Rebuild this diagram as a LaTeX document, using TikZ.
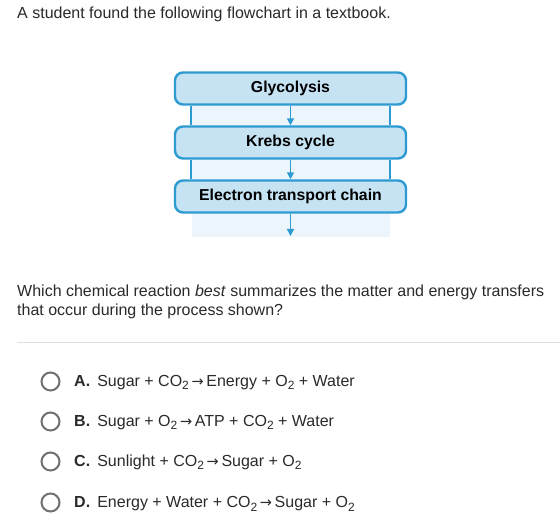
\documentclass[tikz,border=0pt]{standalone}
\usepackage{fontspec}
\setmainfont{Liberation Sans}
\newfontfamily\symfont{DejaVu Sans}
\usetikzlibrary{arrows.meta}
\definecolor{boxfill}{HTML}{C6E3F4}
\definecolor{boxline}{HTML}{2D9BD2}
\definecolor{panel}{HTML}{EBF5FB}
\definecolor{txt}{HTML}{2A2A2A}
\definecolor{radio}{HTML}{707070}
\definecolor{sep}{HTML}{E0E0E0}
\newcommand{\arr}{\,{\symfont\fontsize{14.5}{14}\selectfont →}\,}
\newcommand{\sub}[1]{\raisebox{-3pt}{\fontsize{12}{12}\selectfont #1}}
\begin{document}
\begin{tikzpicture}[x=1pt,y=-1pt,
  txtnode/.style={anchor=base west,inner sep=0pt,text=txt,font=\fontsize{16}{19}\selectfont},
  stagebox/.style={draw=boxline,fill=boxfill,line width=2.4pt,rounded corners=8pt,minimum width=231pt,minimum height=32pt,inner sep=0pt,text=black,font=\bfseries\fontsize{15.8}{18}\selectfont},
  flowarrow/.style={draw=boxline,line width=1.5pt,-{Triangle[length=7pt,width=7pt]}},
  sideline/.style={draw=boxline,line width=1.5pt},
  radiobtn/.style={circle,draw=radio,line width=2pt,minimum size=18pt,inner sep=0pt}]
\useasboundingbox (0,0) rectangle (560,518);
\fill[white] (0,0) rectangle (560,518);
\node[txtnode] (t1) at (17,19) {A student found the following flowchart in a textbook.};
% panel
\fill[panel] (192,95) rectangle (390,237);
\node[stagebox] (g) at (290.5,88.5) {\raisebox{-1pt}{Glycolysis}};
\node[stagebox] (k) at (290.5,142.5) {\raisebox{-1pt}{Krebs cycle}};
\node[stagebox] (e) at (290.5,196.5) {\raisebox{-1pt}{Electron transport chain}};
\coordinate (end) at (290.5,236);
\draw[sideline] ([xshift=17pt]g.south west) -- ([xshift=17pt]k.north west);
\draw[sideline] ([xshift=-17pt]g.south east) -- ([xshift=-17pt]k.north east);
\draw[sideline] ([xshift=17pt]k.south west) -- ([xshift=17pt]e.north west);
\draw[sideline] ([xshift=-17pt]k.south east) -- ([xshift=-17pt]e.north east);
\draw[flowarrow] (g.south) -- (k.north);
\draw[flowarrow] (k.south) -- (e.north);
\draw[flowarrow] (e.south) -- (end);
% question
\node[txtnode] (q1) at (17,297) {Which chemical reaction \textit{best} summarizes the matter and energy transfers};
\node[txtnode] (q2) at (17,316) {that occur during the process shown?};
\draw[sep,line width=1pt] (17,343) -- (560,343);
% options
\node[radiobtn] (ra) at (50.5,381.5) {};
\node[radiobtn] (rb) at (50.5,421.5) {};
\node[radiobtn] (rc) at (50.5,461.5) {};
\node[radiobtn] (rd) at (50.5,502.5) {};
\node[txtnode] (la) at (74,387) {\textbf{A.}\ \,Sugar + CO\sub{2}\arr Energy + O\sub{2} + Water};
\node[txtnode] (lb) at (74,427) {\textbf{B.}\ \,Sugar + O\sub{2}\arr ATP + CO\sub{2} + Water};
\node[txtnode] (lc) at (74,467) {\textbf{C.}\ \,Sunlight + CO\sub{2}\arr Sugar + O\sub{2}};
\node[txtnode] (ld) at (74,508) {\textbf{D.}\ \,Energy + Water + CO\sub{2}\arr Sugar + O\sub{2}};
\end{tikzpicture}
\end{document}
